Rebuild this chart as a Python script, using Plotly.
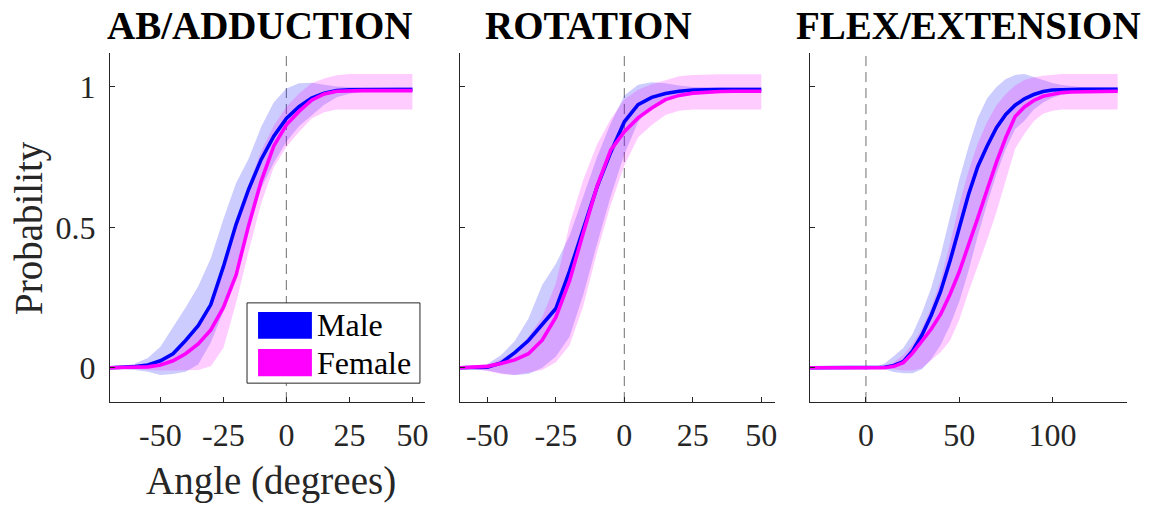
import plotly.graph_objects as go

# ---------------- data ----------------
panel_titles = ["AB/ADDUCTION", "ROTATION", "FLEX/EXTENSION"]
series_names = ["Male", "Female"]

# AB/ADDUCTION
x_ab = [-70, -65, -60, -55, -50, -45, -40, -35, -30, -25, -20, -15, -10, -5, 0, 5, 10, 15, 20, 25, 30, 35, 40, 45, 50]
male_ab = [0, 0.001, 0.004, 0.01, 0.025, 0.05, 0.097, 0.15, 0.225, 0.36, 0.51, 0.635, 0.742, 0.825, 0.888, 0.93, 0.96, 0.978, 0.987, 0.99, 0.991, 0.991, 0.991, 0.991, 0.991]
male_ab_up = [0, 0.005, 0.015, 0.035, 0.075, 0.145, 0.215, 0.29, 0.39, 0.53, 0.657, 0.744, 0.858, 0.946, 0.995, 1.013, 1.015, 1.008, 1.002, 1.0, 1.0, 1.0, 1.0, 1.0, 1.0]
male_ab_lo = [0, -0.003, -0.008, -0.014, -0.026, -0.022, -0.014, 0.012, 0.09, 0.2, 0.357, 0.516, 0.64, 0.73, 0.805, 0.86, 0.9, 0.937, 0.963, 0.976, 0.982, 0.982, 0.982, 0.982, 0.982]
female_ab = [0, 0, 0.001, 0.003, 0.01, 0.025, 0.05, 0.085, 0.135, 0.215, 0.33, 0.506, 0.665, 0.79, 0.865, 0.913, 0.953, 0.975, 0.985, 0.987, 0.987, 0.987, 0.987, 0.987, 0.987]
female_ab_up = [0, 0.002, 0.005, 0.012, 0.025, 0.05, 0.087, 0.137, 0.219, 0.337, 0.503, 0.651, 0.771, 0.862, 0.93, 0.977, 1.013, 1.03, 1.042, 1.046, 1.046, 1.046, 1.046, 1.046, 1.046]
female_ab_lo = [0, -0.002, -0.005, -0.008, -0.01, -0.01, -0.01, -0.008, 0.005, 0.07, 0.23, 0.414, 0.586, 0.714, 0.787, 0.84, 0.888, 0.91, 0.92, 0.92, 0.92, 0.92, 0.92, 0.92, 0.92]

# ROTATION
x_rot = [-60, -55, -50, -45, -40, -35, -30, -25, -20, -15, -10, -5, 0, 5, 10, 15, 20, 25, 30, 35, 40, 45, 50]
male_rot = [0, 0, 0.002, 0.017, 0.054, 0.097, 0.153, 0.211, 0.344, 0.498, 0.643, 0.767, 0.876, 0.937, 0.963, 0.977, 0.985, 0.989, 0.991, 0.991, 0.991, 0.991, 0.991]
male_rot_up = [0, 0.005, 0.013, 0.045, 0.095, 0.175, 0.295, 0.37, 0.47, 0.61, 0.75, 0.87, 0.97, 1.008, 1.017, 1.013, 1.005, 1.0, 1.0, 1.0, 1.0, 1.0, 1.0]
male_rot_lo = [0, -0.005, -0.01, -0.02, -0.026, -0.022, 0.0, 0.04, 0.11, 0.26, 0.44, 0.61, 0.76, 0.875, 0.93, 0.955, 0.97, 0.978, 0.982, 0.982, 0.982, 0.982, 0.982]
female_rot = [0, 0.002, 0.005, 0.015, 0.028, 0.05, 0.098, 0.18, 0.31, 0.48, 0.645, 0.775, 0.841, 0.89, 0.925, 0.955, 0.97, 0.978, 0.982, 0.984, 0.985, 0.985, 0.985]
female_rot_up = [0, 0.003, 0.01, 0.03, 0.06, 0.11, 0.18, 0.3, 0.51, 0.67, 0.795, 0.885, 0.955, 0.99, 1.01, 1.025, 1.038, 1.043, 1.045, 1.045, 1.045, 1.045, 1.045]
female_rot_lo = [0, -0.005, -0.012, -0.022, -0.026, -0.018, -0.008, 0.02, 0.08, 0.22, 0.41, 0.58, 0.72, 0.82, 0.865, 0.9, 0.915, 0.92, 0.92, 0.92, 0.92, 0.92, 0.92]

# FLEX/EXTENSION
x_flex = [-30, -25, -20, -15, -10, -5, 0, 5, 10, 15, 20, 25, 30, 35, 40, 45, 50, 55, 60, 65, 70, 75, 80, 85, 90, 95, 100, 105, 110, 115, 120, 125, 130, 135]
male_flex = [0, 0, 0, 0, 0, 0, 0, 0.001, 0.002, 0.008, 0.022, 0.06, 0.116, 0.187, 0.271, 0.378, 0.5, 0.617, 0.717, 0.79, 0.855, 0.902, 0.935, 0.958, 0.973, 0.984, 0.989, 0.991, 0.992, 0.992, 0.992, 0.992, 0.992, 0.992]
male_flex_up = [0, 0, 0, 0, 0, 0, 0, 0.003, 0.015, 0.042, 0.07, 0.12, 0.195, 0.285, 0.4, 0.535, 0.67, 0.787, 0.89, 0.96, 1.0, 1.028, 1.043, 1.046, 1.035, 1.023, 1.014, 1.007, 1.003, 1.0, 1.0, 1.0, 1.0, 1.0]
male_flex_lo = [0, 0, 0, 0, 0, 0, 0, 0, -0.005, -0.015, -0.02, -0.02, -0.005, 0.03, 0.08, 0.15, 0.235, 0.345, 0.47, 0.585, 0.69, 0.78, 0.85, 0.88, 0.92, 0.945, 0.962, 0.972, 0.978, 0.982, 0.982, 0.982, 0.982, 0.982]
female_flex = [0, 0, 0, 0, 0, 0, 0, 0, 0, 0.005, 0.018, 0.052, 0.093, 0.138, 0.19, 0.26, 0.341, 0.434, 0.534, 0.634, 0.732, 0.82, 0.895, 0.929, 0.952, 0.967, 0.975, 0.98, 0.982, 0.983, 0.985, 0.985, 0.985, 0.985]
female_flex_up = [0, 0, 0, 0, 0, 0, 0, 0, 0, 0.02, 0.045, 0.085, 0.14, 0.215, 0.31, 0.44, 0.58, 0.7, 0.8, 0.875, 0.935, 0.975, 1.005, 1.025, 1.035, 1.04, 1.043, 1.046, 1.046, 1.046, 1.046, 1.046, 1.046, 1.046]
female_flex_lo = [0, 0, 0, 0, 0, 0, 0, 0, 0, -0.005, -0.01, -0.01, -0.002, 0.025, 0.055, 0.095, 0.17, 0.27, 0.365, 0.455, 0.555, 0.668, 0.78, 0.833, 0.878, 0.905, 0.915, 0.92, 0.92, 0.92, 0.92, 0.92, 0.92, 0.92]

x_ranges = [[-70, 55], [-60, 55], [-30, 140]]
x_ticks = [[-50, -25, 0, 25, 50], [-50, -25, 0, 25, 50], [0, 50, 100]]
x_tick_text = [["-50", "-25", "0", "25", "50"], ["-50", "-25", "0", "25", "50"], ["0", "50", "100"]]
y_ticks = [0, 0.5, 1]
y_tick_text = ["0", "0.5", "1"]
y_range = [-0.122, 1.121]

panels = [
    (x_ab, male_ab, male_ab_up, male_ab_lo, female_ab, female_ab_up, female_ab_lo),
    (x_rot, male_rot, male_rot_up, male_rot_lo, female_rot, female_rot_up, female_rot_lo),
    (x_flex, male_flex, male_flex_up, male_flex_lo, female_flex, female_flex_up, female_flex_lo),
]

# ---------------- styling ----------------
FONT = "Liberation Serif"
AX = "#262626"
MALE = "rgb(0,0,255)"
FEMALE = "rgb(255,0,255)"
MALE_FILL = "rgba(0,0,255,0.2)"
FEMALE_FILL = "rgba(255,0,255,0.2)"

W, H = 1153, 506
ML, MR, MT, MB = 110, 26, 53, 104
PW = W - ML - MR
PH = H - MT - MB
domains = [[0, 315 / PW], [350 / PW, 665 / PW], [700 / PW, 1.0]]


def px_x(sx):
    return (sx - ML) / PW


def px_y(sy):
    return (H - MB - sy) / PH


fig = go.Figure()

for i, (xs, m, mu, mlo, f, fu, flo) in enumerate(panels):
    xa = "x" if i == 0 else f"x{i+1}"
    ya = "y" if i == 0 else f"y{i+1}"
    for up, lo, col in [(mu, mlo, MALE_FILL), (fu, flo, FEMALE_FILL)]:
        fig.add_trace(go.Scatter(
            x=list(xs) + list(xs)[::-1], y=list(up) + list(lo)[::-1],
            fill="toself", fillcolor=col, line=dict(width=0), mode="lines",
            hoverinfo="skip", showlegend=False, xaxis=xa, yaxis=ya))
    for ys, col, name in [(m, MALE, series_names[0]), (f, FEMALE, series_names[1])]:
        fig.add_trace(go.Scatter(
            x=xs, y=ys, mode="lines", line=dict(color=col, width=3.6),
            name=name, showlegend=False, xaxis=xa, yaxis=ya))

layout = dict(
    width=W, height=H,
    margin=dict(l=ML, r=MR, t=MT, b=MB, autoexpand=False),
    paper_bgcolor="white", plot_bgcolor="white",
    font=dict(family=FONT, color=AX, size=32),
    showlegend=False,
)
for i in range(3):
    sx = "" if i == 0 else str(i + 1)
    layout[f"xaxis{sx}"] = dict(
        domain=domains[i], range=x_ranges[i], tickvals=x_ticks[i], ticktext=x_tick_text[i],
        ticks="inside", ticklen=5, tickcolor=AX, tickwidth=1,
        showline=True, linecolor=AX, linewidth=1, showgrid=False, zeroline=False,
        tickfont=dict(family=FONT, size=32, color=AX), ticklabelstandoff=5,
        automargin=False,
        anchor="y" if i == 0 else f"y{i+1}",
    )
    layout[f"yaxis{sx}"] = dict(
        domain=[0, 1], range=y_range, tickvals=y_ticks, ticktext=y_tick_text,
        ticks="inside", ticklen=5, tickcolor=AX, tickwidth=1,
        showline=True, linecolor=AX, linewidth=1, showgrid=False, zeroline=False,
        showticklabels=(i == 0), automargin=False,
        tickfont=dict(family=FONT, size=32, color=AX), ticklabelstandoff=7,
        anchor="x" if i == 0 else f"x{i+1}",
    )
fig.update_layout(**layout)

# zero reference lines
for i in range(3):
    sx = "" if i == 0 else str(i + 1)
    fig.add_shape(type="line", xref=f"x{sx}", yref=f"y{sx} domain",
                  x0=0, x1=0, y0=0, y1=1,
                  line=dict(color="rgb(135,135,135)", width=1.2, dash="10px,6px"),
                  layer="below")

# titles
title_x_px = [260, 588.5, 968.5]
for t, px in zip(panel_titles, title_x_px):
    fig.add_annotation(text=f"<b>{t}</b>", xref="paper", yref="paper",
                       x=px_x(px), y=px_y(26),
                       xanchor="center", yanchor="middle", showarrow=False,
                       font=dict(family=FONT, size=39, color="black"))

# axis labels
fig.add_annotation(text="Angle (degrees)", xref="paper", yref="paper",
                   x=px_x(271), y=px_y(481),
                   xanchor="center", yanchor="middle", showarrow=False,
                   font=dict(family=FONT, size=39, color=AX))
fig.add_annotation(text="Probability", xref="paper", yref="paper",
                   x=px_x(29), y=px_y(228),
                   xanchor="center", yanchor="middle", showarrow=False, textangle=-90,
                   font=dict(family=FONT, size=39, color=AX))

# legend (panel 1)
fig.add_shape(type="rect", xref="x domain", yref="y domain",
              x0=0.435, x1=0.984, y0=0.054, y1=0.284,
              line=dict(color=AX, width=1), fillcolor="white", layer="above")
for (y0, y1, col, name) in [(0.181, 0.258, MALE, series_names[0]), (0.074, 0.152, FEMALE, series_names[1])]:
    fig.add_shape(type="rect", xref="x domain", yref="y domain",
                  x0=0.470, x1=0.641, y0=y0, y1=y1,
                  line=dict(width=0), fillcolor=col, layer="above")
    fig.add_annotation(text=name, xref="x domain", yref="y domain",
                       x=0.652, y=(y0 + y1) / 2, xanchor="left", yanchor="middle",
                       showarrow=False, font=dict(family=FONT, size=32, color="black"))

# remove the default 8px page margin so the figure sits at the window origin
fig.write_html("out.html",
               config={"displayModeBar": False, "staticPlot": True},
               post_script="document.body.style.margin='0';document.body.style.overflow='hidden';")
